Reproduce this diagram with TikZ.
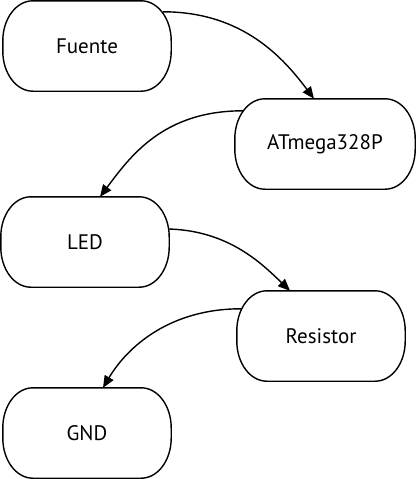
\documentclass[tikz,border=0pt]{standalone}
\usepackage{fontspec}
\setmainfont{PT Sans}
\usetikzlibrary{arrows.meta}
\begin{document}
\begin{tikzpicture}[x=1pt,y=-1pt,
  blk/.style={inner sep=0pt, font=\fontsize{21}{25}\selectfont},
  frame/.style={draw=black, line width=1.4pt},
  conn/.style={draw=black, line width=1.4pt, -{Triangle[length=12pt,width=10pt]}}]
\useasboundingbox (0,0) rectangle (417,479);
\node[blk, minimum width=168pt, minimum height=90pt] (fuente) at (87,46) {Fuente};
\node[blk, minimum width=180pt, minimum height=90pt] (atmega) at (325,144) {ATmega328P};
\node[blk, minimum width=168pt, minimum height=90pt] (led) at (85,242) {LED};
\node[blk, minimum width=168pt, minimum height=90pt] (res) at (321,336) {Resistor};
\node[blk, minimum width=168pt, minimum height=90pt] (gnd) at (87,433) {GND};
\foreach \n in {fuente,atmega,led,res,gnd}{
  \draw[frame] ([xshift=30pt]\n.north west) -- ([xshift=-30pt]\n.north east)
    arc[start angle=90, end angle=0, x radius=30pt, y radius=40pt]
    -- ([yshift=40pt]\n.south east)
    arc[start angle=0, end angle=-90, x radius=30pt, y radius=40pt]
    -- ([xshift=30pt]\n.south west)
    arc[start angle=270, end angle=180, x radius=30pt, y radius=40pt]
    -- ([yshift=-40pt]\n.north west)
    arc[start angle=180, end angle=90, x radius=30pt, y radius=40pt]
    -- cycle;
}
\draw[conn] ([xshift=-8pt,yshift=-11pt]fuente.north east) .. controls +(80,0) and +(-30,-40) .. ([xshift=-11pt]atmega.north);
\draw[conn] ([xshift=8pt,yshift=-12pt]atmega.north west) .. controls +(-80,0) and +(30,-40) .. ([xshift=15pt]led.north);
\draw[conn] ([yshift=13pt]led.east) .. controls +(60,2) and +(-28,-27) .. ([xshift=-31pt]res.north);
\draw[conn] ([xshift=4pt,yshift=-18pt]res.north west) .. controls +(-70,0) and +(25,-42) .. ([xshift=16pt]gnd.north);
\end{tikzpicture}
\end{document}
